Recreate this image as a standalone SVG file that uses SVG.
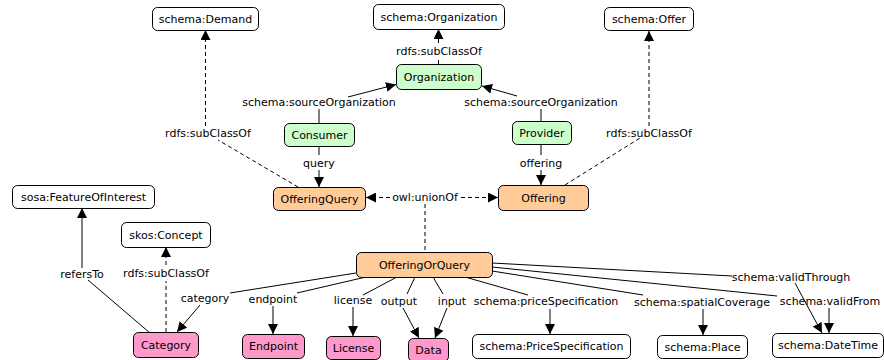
<svg xmlns="http://www.w3.org/2000/svg" width="884" height="360" viewBox="0 0 884 360">
<style>
.n rect{stroke:#000;stroke-width:1;rx:5;ry:5}
.w rect{fill:#fff}
.g rect{fill:#ccffcc}
.o rect{fill:#ffcc99}
.p rect{fill:#ff99cc}
text{font-family:"DejaVu Sans",Verdana,sans-serif;font-size:11px;fill:#000;text-anchor:middle}
.e line,.e polyline{stroke:#000;stroke-width:1;fill:none}
.e .d{stroke-dasharray:4,3}
.a{marker-end:url(#arr)}
</style>
<defs>
<marker id="arr" viewBox="0 0 10 10" refX="10" refY="5" markerWidth="10" markerHeight="10" markerUnits="userSpaceOnUse" orient="auto"><path d="M0,0 L10,5 L0,10 z" fill="#000"/></marker>
</defs>
<g id="edges" class="e">
<line class="d" x1="298" y1="187" x2="218" y2="140"/>
<line class="d a" x1="205.5" y1="126" x2="205.5" y2="30"/>
<line class="d" x1="565" y1="185" x2="640" y2="138"/>
<line class="d a" x1="649" y1="126" x2="649" y2="31"/>
<line class="d" x1="438.5" y1="64" x2="438.5" y2="58"/>
<line class="d a" x1="438.5" y1="43" x2="438.5" y2="29"/>
<line x1="319" y1="123" x2="319" y2="109"/>
<line class="a" x1="348" y1="97" x2="396" y2="84.5"/>
<line x1="541" y1="121" x2="541" y2="109"/>
<line class="a" x1="517" y1="96" x2="482" y2="86"/>
<line x1="319" y1="147" x2="319" y2="155"/>
<line class="a" x1="319" y1="170" x2="319" y2="187"/>
<line x1="541" y1="144" x2="541" y2="155"/>
<line class="a" x1="541" y1="170" x2="541" y2="185"/>
<line class="d a" x1="390" y1="197.5" x2="366" y2="197.5"/>
<line class="d a" x1="461" y1="197.5" x2="498" y2="197.5"/>
<line class="d" x1="425" y1="204" x2="425" y2="252"/>
<line x1="356" y1="273" x2="230" y2="293"/>
<line class="a" x1="200" y1="305" x2="177" y2="332"/>
<line x1="366" y1="277" x2="297" y2="293"/>
<line class="a" x1="273" y1="306" x2="273" y2="334"/>
<line x1="397" y1="277" x2="363" y2="295"/>
<line class="a" x1="353" y1="307" x2="353" y2="336"/>
<line x1="415" y1="277" x2="407" y2="294"/>
<line class="a" x1="403" y1="308" x2="419" y2="338"/>
<line x1="433" y1="277" x2="443" y2="294"/>
<line class="a" x1="447" y1="308" x2="435" y2="338"/>
<line x1="465" y1="277" x2="528" y2="295"/>
<line class="a" x1="550" y1="309" x2="550" y2="334"/>
<line x1="492" y1="271" x2="643" y2="295"/>
<line class="a" x1="703" y1="309" x2="703" y2="335"/>
<line x1="492" y1="267" x2="777" y2="296"/>
<line class="a" x1="829" y1="308" x2="829" y2="333"/>
<line x1="492" y1="263" x2="732" y2="276"/>
<line class="a" x1="795" y1="283" x2="822" y2="333"/>
<line x1="150" y1="333" x2="88" y2="280"/>
<line class="a" x1="82" y1="268" x2="82" y2="208"/>
<line class="d" x1="166" y1="332" x2="166" y2="281"/>
<line class="d a" x1="166" y1="265" x2="166" y2="247"/>
</g>
<g id="edge-labels">
<text x="208" y="137">rdfs:subClassOf</text>
<text x="649" y="137">rdfs:subClassOf</text>
<text x="439" y="55">rdfs:subClassOf</text>
<text x="319" y="106">schema:sourceOrganization</text>
<text x="541" y="106">schema:sourceOrganization</text>
<text x="319" y="167">query</text>
<text x="541" y="167">offering</text>
<text x="425" y="201">owl:unionOf</text>
<text x="205" y="302">category</text>
<text x="273" y="303">endpoint</text>
<text x="353" y="304">license</text>
<text x="399" y="305">output</text>
<text x="452" y="305">input</text>
<text x="546" y="305">schema:priceSpecification</text>
<text x="702" y="306">schema:spatialCoverage</text>
<text x="830" y="305">schema:validFrom</text>
<text x="791" y="281">schema:validThrough</text>
<text x="82" y="278">refersTo</text>
<text x="166" y="277">rdfs:subClassOf</text>
</g>
<g id="schema-Demand" class="n w"><rect x="152.5" y="7.5" width="106" height="23"/><text x="205.5" y="23">schema:Demand</text></g>
<g id="schema-Organization" class="n w"><rect x="373.5" y="4.5" width="131" height="25"/><text x="439" y="21">schema:Organization</text></g>
<g id="schema-Offer" class="n w"><rect x="604.5" y="7.5" width="89" height="23"/><text x="649" y="23">schema:Offer</text></g>
<g id="Organization" class="n g"><rect x="396.5" y="64.5" width="85" height="25"/><text x="439" y="81">Organization</text></g>
<g id="Consumer" class="n g"><rect x="284.5" y="123.5" width="70" height="23"/><text x="319.5" y="139">Consumer</text></g>
<g id="Provider" class="n g"><rect x="512.5" y="121.5" width="59" height="23"/><text x="542" y="137">Provider</text></g>
<g id="OfferingQuery" class="n o"><rect x="273.5" y="187.5" width="92" height="23"/><text x="319.5" y="203">OfferingQuery</text></g>
<g id="Offering" class="n o"><rect x="498.5" y="185.5" width="90" height="25"/><text x="543.5" y="202">Offering</text></g>
<g id="OfferingOrQuery" class="n o"><rect x="356.5" y="252.5" width="136" height="25"/><text x="424.5" y="269">OfferingOrQuery</text></g>
<g id="sosa-FeatureOfInterest" class="n w"><rect x="12.5" y="185.5" width="142" height="23"/><text x="83.5" y="201">sosa:FeatureOfInterest</text></g>
<g id="skos-Concept" class="n w"><rect x="121.5" y="222.5" width="89" height="25"/><text x="166" y="239">skos:Concept</text></g>
<g id="Category" class="n p"><rect x="133.5" y="332.5" width="65" height="25"/><text x="166" y="349">Category</text></g>
<g id="Endpoint" class="n p"><rect x="242.5" y="334.5" width="62" height="24"/><text x="273.5" y="350">Endpoint</text></g>
<g id="License" class="n p"><rect x="326.5" y="336.5" width="54" height="23"/><text x="353.5" y="352">License</text></g>
<g id="Data" class="n p"><rect x="408.5" y="338.5" width="40" height="23"/><text x="428.5" y="354">Data</text></g>
<g id="schema-PriceSpecification" class="n w"><rect x="472.5" y="334.5" width="158" height="24"/><text x="551.5" y="350">schema:PriceSpecification</text></g>
<g id="schema-Place" class="n w"><rect x="657.5" y="335.5" width="90" height="23"/><text x="702.5" y="351">schema:Place</text></g>
<g id="schema-DateTime" class="n w"><rect x="772.5" y="333.5" width="111" height="24"/><text x="828" y="349">schema:DateTime</text></g>
</svg>
